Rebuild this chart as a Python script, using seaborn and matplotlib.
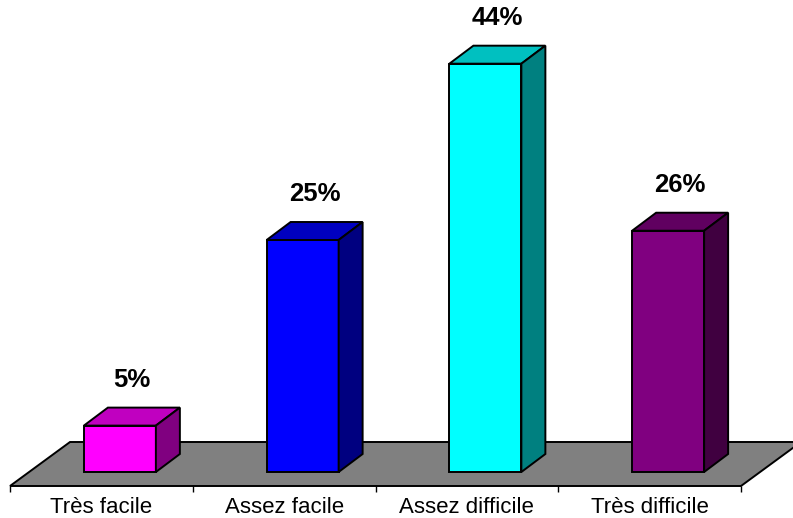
import matplotlib
matplotlib.use('Agg')
import matplotlib.pyplot as plt
from matplotlib.patches import Polygon
import seaborn as sns
import pandas as pd

# data
categories = ['Très facile', 'Assez facile', 'Assez difficile', 'Très difficile']
values = [5, 25, 44, 26]
front_colors = ['#FF00FF', '#0000FF', '#00FFFF', '#800080']
top_colors = ['#C000C0', '#0000C0', '#00C0C0', '#600060']
side_colors = ['#800080', '#000080', '#008080', '#400040']

W, H, DPI = 793, 518, 100
px_x = 182.75        # pixels per category
px_y = 9.28          # pixels per percent
ymin = -14 / px_y
ymax = 486 / px_y + ymin
lw = 1.4

sns.set_theme(style='white')
plt.rcParams['font.family'] = ['Liberation Sans', 'DejaVu Sans']

fig = plt.figure(figsize=(W / DPI, H / DPI), dpi=DPI)
ax = fig.add_axes([10 / W, 32 / H, 731 / W, 486 / H])

df = pd.DataFrame({'cat': categories, 'val': values})
sns.barplot(data=df, x='cat', y='val', hue='cat', palette=front_colors,
            saturation=1, width=72 / px_x, legend=False, ax=ax,
            edgecolor='black', linewidth=lw, zorder=3)

ax.set_xlim(-0.5, 3.5)
ax.set_ylim(ymin, ymax)

# depth of the pseudo-3D bars / floor, in data units
shift = 18.5 / px_x
bdx, bdy = 24 / px_x, 18 / px_y
fdx, fdy = 60 / px_x, 44 / px_y

# floor
floor = Polygon([(-0.5, ymin), (3.5, ymin), (3.5 + fdx, ymin + fdy), (-0.5 + fdx, ymin + fdy)],
                closed=True, facecolor='#808080', edgecolor='black', linewidth=lw,
                zorder=1, clip_on=False)
ax.add_patch(floor)

for i, p in enumerate(ax.patches[:len(values)]):
    p.set_x(p.get_x() + shift)
    x0, x1 = p.get_x(), p.get_x() + p.get_width()
    y0, y1 = p.get_y(), p.get_y() + p.get_height()
    top = Polygon([(x0, y1), (x1, y1), (x1 + bdx, y1 + bdy), (x0 + bdx, y1 + bdy)],
                  closed=True, facecolor=top_colors[i], edgecolor='black', linewidth=lw, zorder=3)
    side = Polygon([(x1, y0), (x1 + bdx, y0 + bdy), (x1 + bdx, y1 + bdy), (x1, y1)],
                   closed=True, facecolor=side_colors[i], edgecolor='black', linewidth=lw, zorder=3)
    ax.add_patch(top)
    ax.add_patch(side)
    ax.text((x0 + x1) / 2 + bdx / 2, y1 + bdy + 28 / px_y, f'{values[i]}%',
            ha='center', va='center', fontsize=18.5, fontweight='bold', color='black',
            clip_on=False)

for s in ax.spines.values():
    s.set_visible(False)
ax.set_yticks([])
ax.set_xlabel('')
ax.set_ylabel('')
ax.set_xticks(range(len(categories)))
ax.set_xticklabels(categories, fontsize=16, color='black')
ax.set_xticks([-0.5, 0.5, 1.5, 2.5, 3.5], minor=True)
ax.tick_params(axis='x', which='major', length=0, pad=8)
ax.tick_params(axis='x', which='minor', length=4.5, width=1, color='black',
               direction='out', bottom=True)

fig.savefig('out.png', dpi=DPI, facecolor='white')
